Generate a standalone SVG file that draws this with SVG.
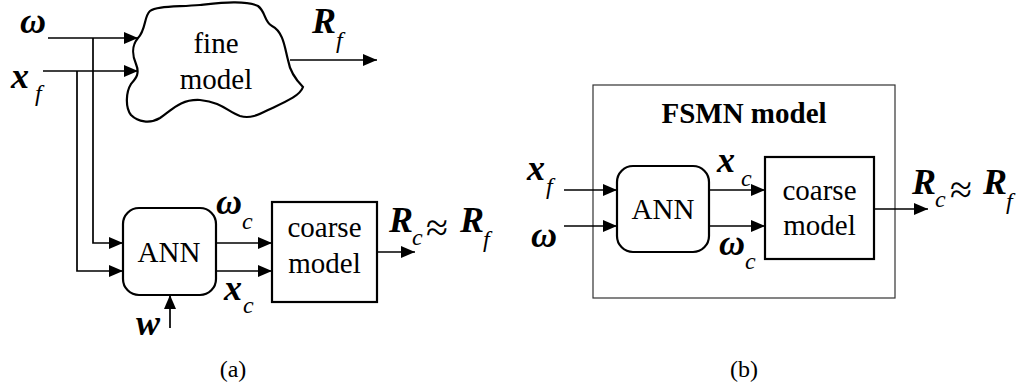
<svg xmlns="http://www.w3.org/2000/svg" width="1029" height="390" viewBox="0 0 1029 390" font-family="Liberation Serif, Times New Roman, Times, Noto Serif, DejaVu Serif, serif">
<style>
.t{font-size:29px;text-anchor:middle}
.v{font-size:36px;font-weight:bold;font-style:italic}
.s{font-size:24px;font-style:italic}
.ap{font-size:40px;text-anchor:middle}
.cap{font-size:24px;text-anchor:middle}
.box{fill:#fff;stroke:#000;stroke-width:2.2}
.ln{fill:none;stroke:#000;stroke-width:1.7}
</style>
<defs>
<marker id="ah" markerUnits="userSpaceOnUse" markerWidth="15" markerHeight="13" refX="14" refY="6" orient="auto">
<path d="M0,0 L14,6 L0,12 z" fill="#000"/>
</marker>
</defs>
<g id="fine-model">
<path class="box" stroke-width="1.8" d="M138,38 C146,30 144,16 150,11 C156,6 175,7 200,5 C220,3 245,0 258,6 C266,12 264,22 272,26 C284,32 285,50 288,60 C290,72 296,80 303,87 C300,96 285,102 268,110 C258,115 250,119 240,116 C228,112 222,102 200,100 C180,99 172,110 160,118 C150,124 138,122 131,115 C125,107 126,92 131,84 C136,78 140,74 136,64 C132,55 132,45 138,38 Z"/>
<text class="t" x="216" y="53">fine</text>
<text class="t" x="216" y="89">model</text>
</g>
<g id="ann-a">
<rect class="box" x="123" y="208" width="93" height="87" rx="16"/>
<text class="t" x="169" y="262">ANN</text>
</g>
<g id="coarse-a">
<rect class="box" x="272" y="202" width="105" height="100"/>
<text class="t" x="324.5" y="237">coarse</text>
<text class="t" x="324.5" y="273">model</text>
</g>
<g id="fsmn-b">
<rect x="593" y="85" width="302" height="213" fill="none" stroke="#333" stroke-width="1.2"/>
<text class="t" x="744" y="123" font-weight="bold">FSMN model</text>
</g>
<g id="ann-b">
<rect class="box" x="617" y="166" width="92" height="86" rx="16"/>
<text class="t" x="663" y="219">ANN</text>
</g>
<g id="coarse-b">
<rect class="box" x="765" y="157" width="109" height="102"/>
<text class="t" x="819.5" y="200">coarse</text>
<text class="t" x="819.5" y="235">model</text>
</g>
<g id="connectors">
<path class="ln" d="M48,38 H138" marker-end="url(#ah)"/>
<path class="ln" d="M93,38 V243 H123" marker-end="url(#ah)"/>
<path class="ln" d="M43,71 H138" marker-end="url(#ah)"/>
<path class="ln" d="M77,71 V271 H123" marker-end="url(#ah)"/>
<path class="ln" d="M290,60 H377" marker-end="url(#ah)"/>
<path class="ln" d="M216,243 H272" marker-end="url(#ah)"/>
<path class="ln" d="M216,271 H272" marker-end="url(#ah)"/>
<path class="ln" d="M377,252 H415" marker-end="url(#ah)"/>
<path class="ln" d="M170,328 V295" marker-end="url(#ah)"/>
<path class="ln" d="M564,190 H617" marker-end="url(#ah)"/>
<path class="ln" d="M564,226 H617" marker-end="url(#ah)"/>
<path class="ln" d="M709,190 H765" marker-end="url(#ah)"/>
<path class="ln" d="M709,226 H765" marker-end="url(#ah)"/>
<path class="ln" d="M874,209 H928" marker-end="url(#ah)"/>
</g>
<g id="labels">
<text class="v" x="20" y="33">ω</text>
<text class="v" x="11" y="88">x</text><text class="s" x="35" y="101">f</text>
<text class="v" x="312" y="33">R</text><text class="s" x="336" y="48">f</text>
<text class="v" x="216" y="214">ω</text><text class="s" x="242" y="229">c</text>
<text class="v" x="224" y="300">x</text><text class="s" x="243" y="313">c</text>
<text class="v" x="136" y="335">w</text>
<text class="v" x="389" y="232">R</text><text class="s" x="412" y="245">c</text>
<text class="ap" x="437" y="241">≈</text>
<text class="v" x="460" y="232">R</text><text class="s" x="483" y="247">f</text>
<text class="v" x="527" y="180">x</text><text class="s" x="546" y="194">f</text>
<text class="v" x="531" y="247">ω</text>
<text class="v" x="717" y="172">x</text><text class="s" x="741" y="186">c</text>
<text class="v" x="719" y="255">ω</text><text class="s" x="745" y="269">c</text>
<text class="v" x="912" y="194">R</text><text class="s" x="935" y="207">c</text>
<text class="ap" x="961" y="203">≈</text>
<text class="v" x="983" y="194">R</text><text class="s" x="1006" y="209">f</text>
</g>
<text class="cap" x="233" y="377">(a)</text>
<text class="cap" x="744" y="377">(b)</text>
</svg>
